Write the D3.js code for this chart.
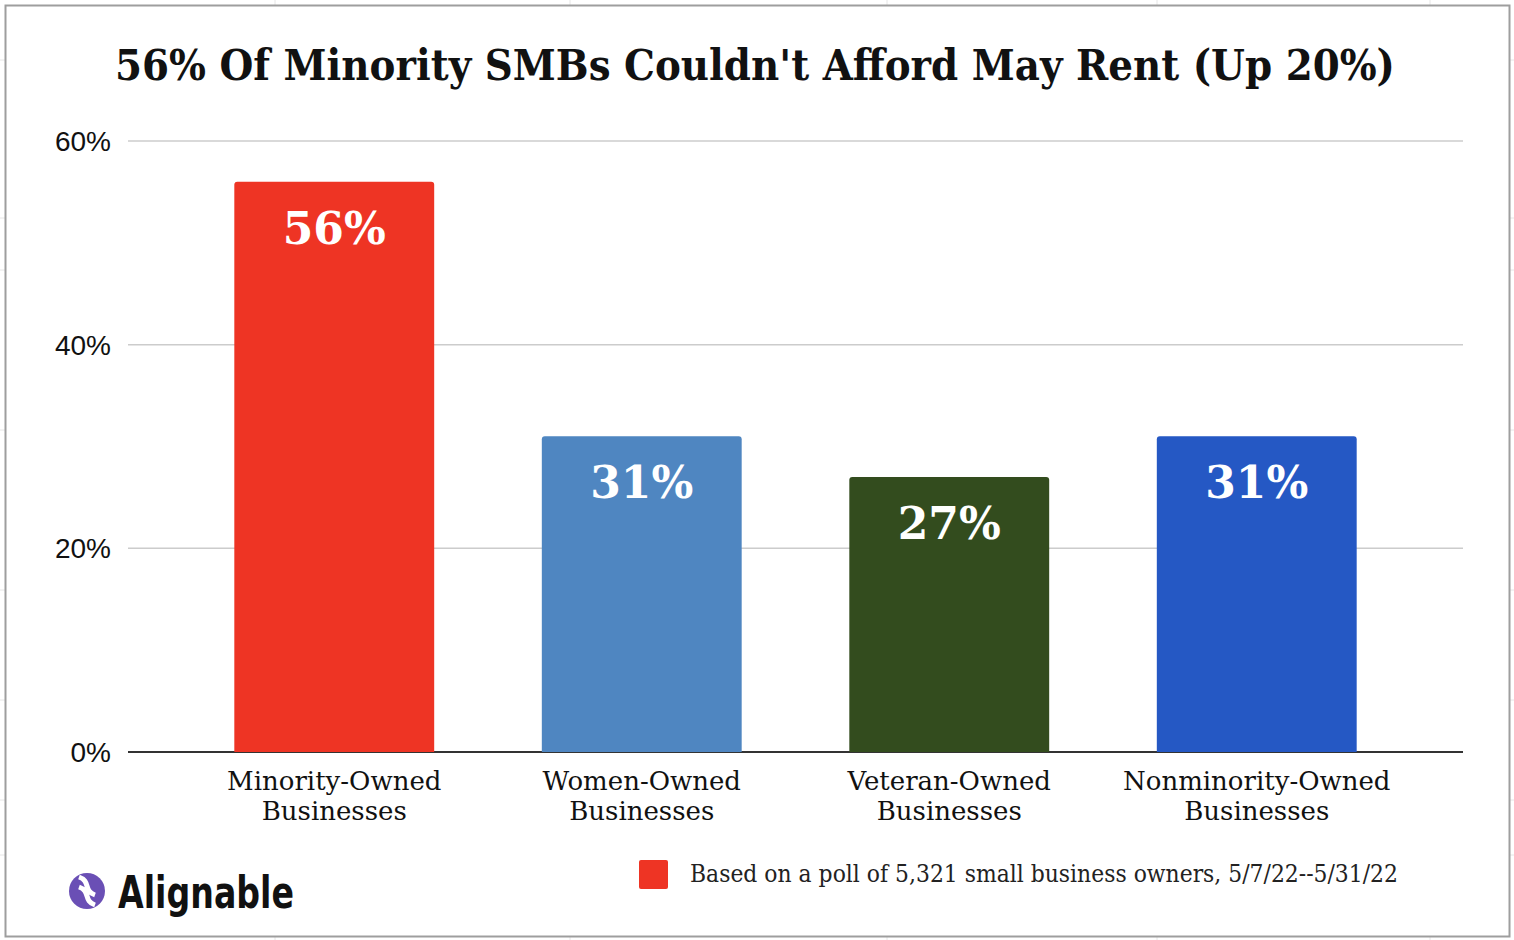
<!DOCTYPE html>
<html><head><meta charset="utf-8">
<script src="https://cdn.jsdelivr.net/npm/d3@7"></script>
<style>body{margin:0;background:#fff}svg{display:block}</style>
</head><body><svg id="c" width="1514" height="940"></svg>
<script>
const categories = [["Minority-Owned","Businesses"],["Women-Owned","Businesses"],["Veteran-Owned","Businesses"],["Nonminority-Owned","Businesses"]];
const values = [56, 31, 27, 31];
const colors = ["#ee3424","#4f86c1","#334c1e","#2558c4"];
const yTicks = [0, 20, 40, 60];
const title = "56% Of Minority SMBs Couldn't Afford May Rent (Up 20%)";
const legendText = "Based on a poll of 5,321 small business owners, 5/7/22--5/31/22";

const svg = d3.select("#c");
const serif = "Georgia, 'DejaVu Serif', serif";
[275,570,887,1157,1430].forEach(x=>svg.append("line").attr("x1",x).attr("x2",x).attr("y1",0).attr("y2",940).attr("stroke","#e6e6e6"));
[60,218,270,430,590,700,800,855].forEach(y=>svg.append("line").attr("x1",0).attr("x2",1514).attr("y1",y).attr("y2",y).attr("stroke","#e6e6e6"));
svg.append("rect").attr("x",5.5).attr("y",5.5).attr("width",1504).attr("height",931).attr("fill","#fff").attr("stroke","#9e9e9e").attr("stroke-width",2);

const y = d3.scaleLinear().domain([0,60]).range([752,141]);
const x = d3.scaleBand().domain(d3.range(4)).range([180.5,1410.5]).paddingInner(0.35).paddingOuter(0.175);

svg.append("text").attr("x",755).attr("y",80).attr("text-anchor","middle").attr("font-family",serif).attr("font-weight","bold").attr("font-size",42).attr("fill","#111").attr("textLength",1280).attr("lengthAdjust","spacingAndGlyphs").text(title);

yTicks.forEach(t=>{
  svg.append("line").attr("x1",128).attr("x2",1463).attr("y1",y(t)).attr("y2",y(t)).attr("stroke",t===0?"#333":"#ccc").attr("stroke-width",t===0?2:1.5);
  svg.append("text").attr("x",111).attr("y",y(t)+10).attr("text-anchor","end").attr("font-family","Arial, 'Liberation Sans', sans-serif").attr("font-size",28).attr("fill","#111").text(t+"%");
});

values.forEach((v,i)=>{
  const w = x.bandwidth();
  svg.append("path").attr("d",`M${x(i)},${y(0)}V${y(v)+3}q0,-3 3,-3H${x(i)+w-3}q3,0 3,3V${y(0)}Z`).attr("fill",colors[i]);
  svg.append("text").attr("x",x(i)+w/2).attr("y",y(v)+62).attr("text-anchor","middle").attr("font-family",serif).attr("font-weight","bold").attr("font-size",44).attr("fill","#fff").text(v+"%");
  categories[i].forEach((l,j)=>svg.append("text").attr("x",x(i)+w/2).attr("y",790+j*30).attr("text-anchor","middle").attr("font-family",serif).attr("font-size",26).attr("fill","#111").text(l));
});

svg.append("rect").attr("x",639).attr("y",860).attr("width",29).attr("height",29).attr("rx",2).attr("fill",colors[0]);
svg.append("text").attr("x",690).attr("y",882).attr("font-family",serif).attr("font-size",24).attr("fill","#222").attr("textLength",708).attr("lengthAdjust","spacingAndGlyphs").text(legendText);

const g = svg.append("g").attr("transform","translate(87,891)");
g.append("circle").attr("r",18).attr("fill","#6a4fb5");
g.append("path").attr("d","M-8,-14 C4,-10 -4,0 8,4 M8,14 C-4,10 4,0 -8,-4").attr("stroke","#fff").attr("stroke-width",5).attr("fill","none");
svg.append("text").attr("x",118).attr("y",908).attr("font-family","'DejaVu Sans', sans-serif").attr("font-weight","bold").attr("font-size",44).attr("fill","#111").attr("textLength",176).attr("lengthAdjust","spacingAndGlyphs").text("Alignable");
</script></body></html>
